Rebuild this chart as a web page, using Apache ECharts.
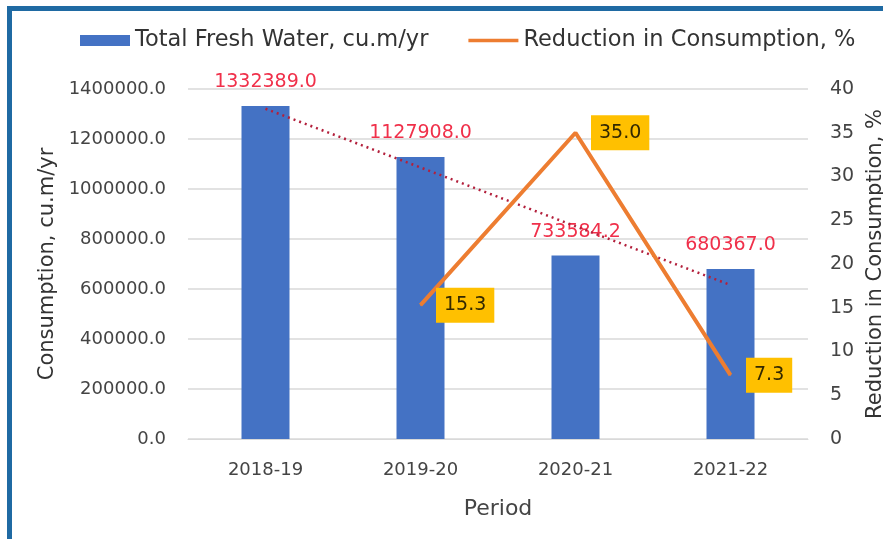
<!DOCTYPE html>
<html>
<head>
<meta charset="utf-8">
<script src="https://cdn.jsdelivr.net/npm/echarts@6/dist/echarts.min.js"></script>
<style>html,body{margin:0;padding:0;background:#fff;overflow:hidden;}#c{width:883px;height:539px;}</style>
</head>
<body>
<div id="c"></div>
<script>
const categories = ['2018-19', '2019-20', '2020-21', '2021-22'];
const freshWater = [1332389.0, 1127908.0, 733584.2, 680367.0];
const reduction = [null, 15.3, 35.0, 7.3];
const trendline = [1321000, null, null, 616000];
const leftTicks = [0, 1400000, 200000];
const rightTicks = [0, 40, 5];

const FONT = 'DejaVu Sans';
const chart = echarts.init(document.getElementById('c'));
chart.setOption({
  animation: false,
  textStyle: { fontFamily: FONT },
  graphic: [
    { type: 'rect', shape: { x: 7, y: 6, width: 876, height: 5 }, style: { fill: '#1f6aa3' }, z: 100 },
    { type: 'rect', shape: { x: 7, y: 6, width: 5, height: 533 }, style: { fill: '#1f6aa3' }, z: 100 }
  ],
  legend: {
    data: [
      { name: 'Total Fresh Water, cu.m/yr', icon: 'rect' },
      { name: 'Reduction in Consumption, %', icon: 'path://M0,4L50,4L50,7.5L0,7.5Z' }
    ],
    left: 75, top: 24,
    itemWidth: 50, itemHeight: 11, itemGap: 40, symbolKeepAspect: true,
    textStyle: { fontSize: 22.5, color: '#333', fontFamily: FONT }
  },
  grid: { left: 188, right: 75, top: 89, bottom: 100, containLabel: false, outerBoundsMode: 'none' },
  xAxis: {
    type: 'category', data: categories,
    name: 'Period', nameLocation: 'middle', nameGap: 59,
    nameTextStyle: { fontSize: 22, color: '#444' },
    axisLine: { lineStyle: { color: '#d9d9d9' } },
    axisTick: { show: false },
    axisLabel: { fontSize: 18, color: '#444', margin: 22 }
  },
  yAxis: [
    {
      type: 'value', min: leftTicks[0], max: leftTicks[1], interval: leftTicks[2],
      name: 'Consumption, cu.m/yr', nameLocation: 'middle', nameGap: 130,
      nameTextStyle: { fontSize: 21, color: '#333' },
      axisLine: { show: false }, axisTick: { show: false },
      axisLabel: { fontSize: 18, color: '#444', margin: 22, formatter: v => v.toFixed(1) },
      splitLine: { lineStyle: { color: '#d9d9d9', width: 1.5 } }
    },
    {
      type: 'value', min: rightTicks[0], max: rightTicks[1], interval: rightTicks[2],
      name: 'Reduction in Consumption, %', nameLocation: 'middle', nameGap: 55,
      nameTextStyle: { fontSize: 21, color: '#333' },
      axisLine: { show: false }, axisTick: { show: false },
      axisLabel: { fontSize: 19, color: '#444', margin: 22 },
      splitLine: { show: false }
    }
  ],
  series: [
    {
      name: 'Total Fresh Water, cu.m/yr', type: 'bar', data: freshWater,
      barWidth: 48, itemStyle: { color: '#4472c4' },
      label: { show: true, position: 'top', distance: 14, color: '#f0304a', fontSize: 19,
               formatter: p => p.value.toFixed(1) },
      z: 2
    },
    {
      name: 'Trend', type: 'line', data: trendline, connectNulls: true,
      symbol: 'none', lineStyle: { color: '#b3203c', width: 2.5, type: [2, 4] },
      z: 3
    },
    {
      name: 'Reduction in Consumption, %', type: 'line', yAxisIndex: 1, data: reduction,
      symbol: 'circle', symbolSize: 1, showSymbol: true,
      lineStyle: { color: '#ed7d31', width: 4 }, itemStyle: { color: '#ed7d31' },
      label: { show: true, position: 'right', distance: 15, backgroundColor: '#ffc000',
               padding: [9, 8, 7, 8], color: '#332800', fontSize: 19,
               formatter: p => p.value == null ? '' : p.value.toFixed(1) },
      z: 4
    }
  ]
});
</script>
</body>
</html>
